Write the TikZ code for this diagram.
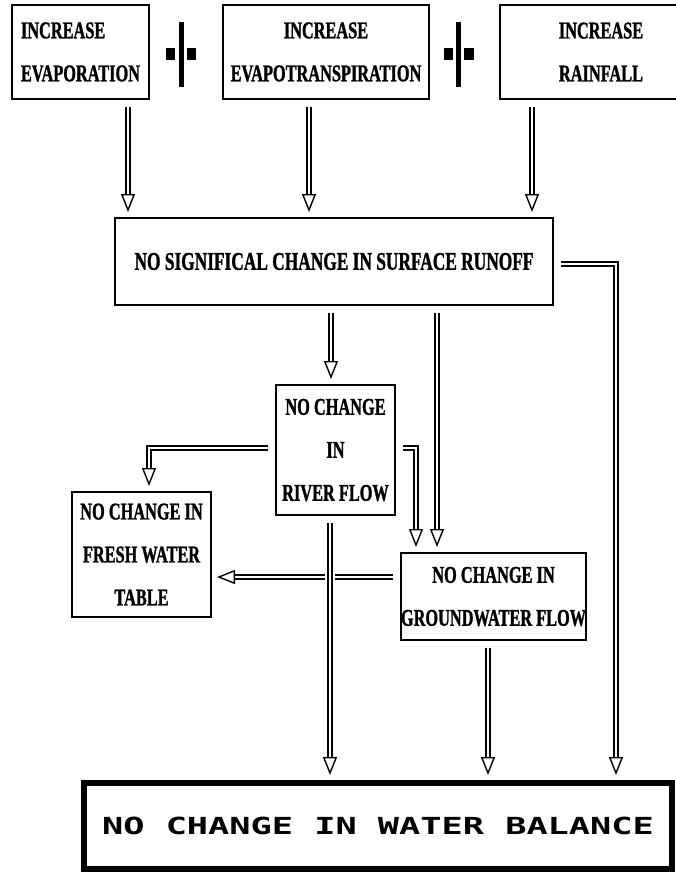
\documentclass[tikz,border=0pt]{standalone}
\usepackage{fontspec}
\usepackage{tikz}
\usetikzlibrary{arrows.meta}
\newfontfamily\dotfont{Liberation Serif}[FakeStretch=0.68, FakeBold=1.2]
\newfontfamily\widefont{DejaVu Sans Mono}[FakeStretch=1.5]

\begin{document}
\begin{tikzpicture}[x=1pt, y=-1pt,
	box/.style={draw, line width=2pt, inner sep=0pt, align=center,
		font=\dotfont\bfseries\fontsize{24}{43}\selectfont},
	flow/.style={double, double distance=2.8pt, line width=1.2pt,
		shorten <=7pt, shorten >=5pt,
		-{Triangle[open, length=18pt, width=14pt, line width=1.4pt]}}]
		\useasboundingbox (0,0) rectangle (675,873);
		% increases
		\node[box, align=left, minimum width=137pt, minimum height=94pt]
		(evap) at (80.5,52) {INCREASE\\EVAPORATION};
		\node[box, minimum width=206pt, minimum height=94pt]
		(evapo) at (326,52) {INCREASE\\EVAPOTRANSPIRATION};
		\node[box, minimum width=202pt, minimum height=94pt]
		(rain) at (601,52) {INCREASE\\RAINFALL};
		% plus signs
		\fill (179,22) rectangle (184,87);
		\fill (166,48) rectangle (175,60);
		\fill (187,48) rectangle (196,60);
		\fill (456,22) rectangle (461,87);
		\fill (444,48) rectangle (453,60);
		\fill (464,48) rectangle (474,60);
		% effects
		\node[box, minimum width=438pt, minimum height=87pt,
			font=\dotfont\bfseries\fontsize{25.5}{43}\selectfont]
		(runoff) at (334,261.5) {NO SIGNIFICAL CHANGE IN SURFACE RUNOFF};
		\node[box, minimum width=119pt, minimum height=130pt]
		(river) at (335.5,450) {NO CHANGE\\IN\\RIVER FLOW};
		\node[box, minimum width=139pt, minimum height=125pt]
		(fresh) at (141.5,554.5) {NO CHANGE IN\\FRESH WATER\\TABLE};
		\node[box, minimum width=181pt, minimum height=87pt]
		(ground) at (493.5,596.5) {NO CHANGE IN\\GROUNDWATER FLOW};
		\node[draw, line width=6pt, inner sep=0pt, minimum width=588pt,
			minimum height=86pt, font=\widefont\bfseries\fontsize{23.5}{28}\selectfont]
		(balance) at (378,826) {NO CHANGE IN WATER BALANCE};
		% arrow columns and rows
		\coordinate (xa) at (128,0);
		\coordinate (xb) at (309,0);
		\coordinate (xc) at (532,0);
		\coordinate (xd) at (331,0);
		\coordinate (xe) at (437,0);
		\coordinate (xf) at (616,0);
		\coordinate (xg) at (149,0);
		\coordinate (xh) at (416,0);
		\coordinate (xi) at (330,0);
		\coordinate (xj) at (488,0);
		\coordinate (ya) at (0,264);
		\coordinate (yb) at (0,448);
		\coordinate (yc) at (0,577);
		% arrows
		\draw[flow] (evap.south -| xa) -- (runoff.north -| xa);
		\draw[flow] (evapo.south -| xb) -- (runoff.north -| xb);
		\draw[flow] (rain.south -| xc) -- (runoff.north -| xc);
		\draw[flow] (runoff.south -| xd) -- (river.north -| xd);
		\draw[flow] (runoff.south -| xe) -- (ground.north -| xe);
		\draw[flow] (runoff.east |- ya) -- (xf |- ya) -- (balance.north -| xf);
		\draw[flow] (river.west |- yb) -- (xg |- yb) -- (fresh.north -| xg);
		\draw[flow] (river.east |- yb) -- (xh |- yb) -- (ground.north -| xh);
		\draw[flow] (ground.west |- yc) -- (fresh.east |- yc);
		\draw[flow, preaction={draw=white, line width=10pt, shorten <=7pt, shorten >=5pt}]
		(river.south -| xi) -- (balance.north -| xi);
		\draw[flow] (ground.south -| xj) -- (balance.north -| xj);
\end{tikzpicture}
\end{document}
